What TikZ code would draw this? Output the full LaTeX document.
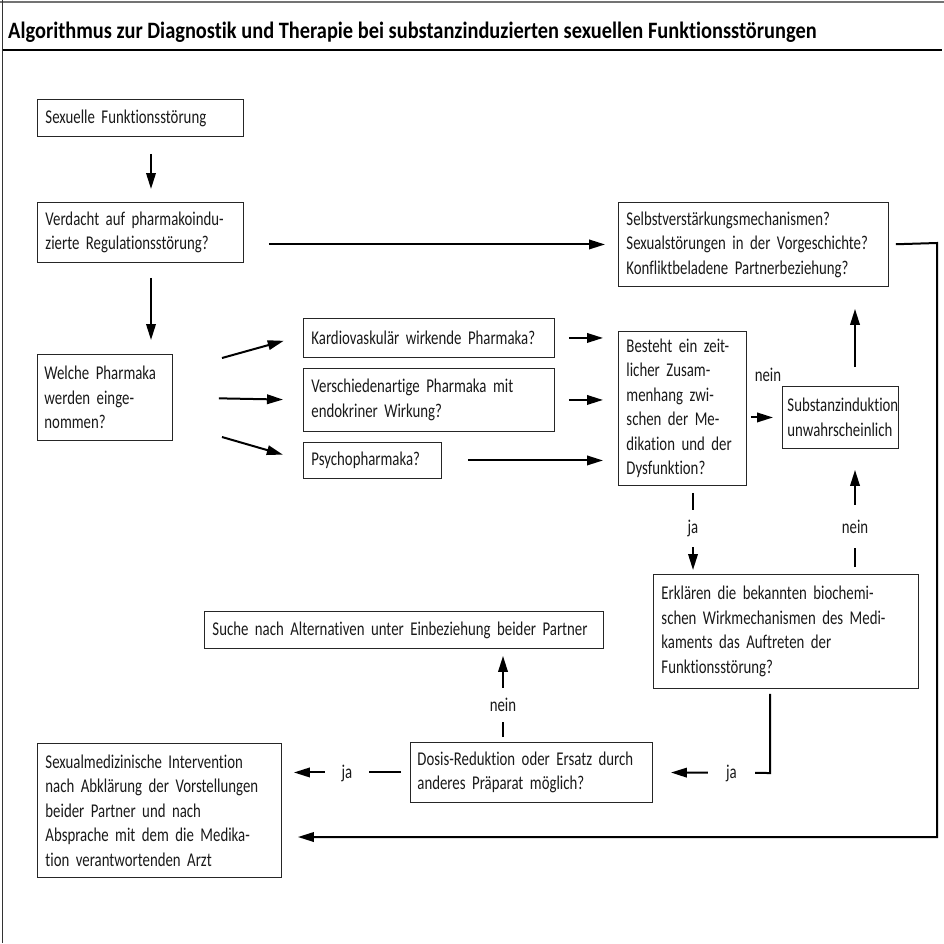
\documentclass[tikz,border=0pt]{standalone}
\usepackage{fontspec}
\setmainfont{Carlito}[FakeStretch=0.76, RawFeature={-liga}]
\newfontfamily\titlefont{Carlito}[FakeStretch=0.868, RawFeature={-liga}]
\usetikzlibrary{arrows.meta,calc}
\newcommand\jl[1]{\makebox[\hsize][s]{#1}}
\newcommand\nl[1]{\mbox{#1}}
\newcommand\bodyfont{\fontsize{19.5}{24.5}\selectfont\spaceskip=4.2pt plus 3pt minus 1pt\relax}
\begin{document}
\begin{tikzpicture}[x=1pt,y=-1pt,
  box/.style={draw=black!85, line width=0.9pt, anchor=north west, inner xsep=8pt, inner ysep=0pt, align=left, font=\bodyfont, text=black!90},
  arr/.style={line width=2pt, -{Triangle[length=16pt,width=9.5pt]}},
  lbl/.style={fill=white, font=\bodyfont, text=black!90, inner sep=0pt},
  frame/.style={line width=1pt, black!80}]
\useasboundingbox (0,0) rectangle (944,943);
% frame
\draw[line width=2.5pt, black!55] (0,2) -- (944,2);
\draw[frame] (2.5,0) -- (2.5,943);
\draw[line width=1.8pt] (2.5,50) -- (942,50);
\node[anchor=base west, inner sep=0pt, font=\titlefont\bfseries\fontsize{23.5}{28}\selectfont] (title) at (8,38) {Algorithmus zur Diagnostik und Therapie bei substanzinduzierten sexuellen Funktionsstörungen};

% boxes
\node[box, text width=190pt, minimum height=37pt] (A) at (37,99) {\nl{Sexuelle Funktionsstörung}};
\node[box, text width=190pt, minimum height=60pt] (B) at (37,202) {\jl{Verdacht auf pharmakoindu-}\\\nl{zierte Regulationsstörung?}};
\node[box, inner xsep=7pt, text width=121pt, minimum height=86pt] (C) at (37,354) {\nl{Welche Pharmaka}\\\nl{werden einge-}\\\nl{nommen?}};
\node[box, text width=235pt, minimum height=39pt] (D) at (303,318) {\nl{Kardiovaskulär wirkende Pharmaka?}};
\node[box, text width=235pt, minimum height=63pt] (E) at (303,368) {\nl{Verschiedenartige Pharmaka mit}\\\nl{endokriner Wirkung?}};
\node[box, text width=122pt, minimum height=36pt] (F) at (303,442) {\nl{Psychopharmaka?}};
\node[box, text width=254pt, minimum height=84pt] (G) at (618,202) {\nl{Selbstverstärkungsmechanismen?}\\\nl{Sexualstörungen in der Vorgeschichte?}\\\nl{Konfliktbeladene Partnerbeziehung?}};
\node[box, text width=112pt, minimum height=154pt] (H) at (618,331) {\jl{Besteht ein zeit-}\\\nl{licher Zusam-}\\\jl{menhang zwi-}\\\jl{schen der Me-}\\\jl{dikation und der}\\\nl{Dysfunktion?}};
\node[box, inner xsep=5pt, text width=106pt, minimum height=62pt] (I) at (782,386) {\nl{Substanzinduktion}\\\nl{unwahrscheinlich}};
\node[box, text width=249pt, minimum height=114pt] (J) at (653,574) {\jl{Erklären die bekannten biochemi-}\\\jl{schen Wirkmechanismen des Medi-}\\\nl{kaments das Auftreten der}\\\nl{Funktionsstörung?}};
\node[box, text width=383pt, minimum height=37pt] (K) at (204,611) {\nl{Suche nach Alternativen unter Einbeziehung beider Partner}};
\node[box, inner xsep=7pt, text width=228pt, minimum height=60pt] (L) at (410,742) {\nl{Dosis-Reduktion oder Ersatz durch}\\\nl{anderes Präparat möglich?}};
\node[box, text width=228pt, minimum height=134pt] (M) at (37,743) {\nl{Sexualmedizinische Intervention}\\\nl{nach Abklärung der Vorstellungen}\\\nl{beider Partner und nach}\\\nl{Absprache mit dem die Medika-}\\\nl{tion verantwortenden Arzt}};

% helper coordinates
\coordinate (axAB) at (151,0);
\coordinate (axHJ) at (693,0);
\coordinate (axI) at (855,0);
\coordinate (axLK) at (503,0);
\coordinate (jc) at (770,773);
\coordinate (c1) at (937,243);
\coordinate (c2) at (937,837);
\coordinate (s1) at (222,358);
\coordinate (s3) at (222,437);

% connectors
\draw[arr, shorten <=17pt, shorten >=13pt] (A.south -| axAB) -- (B.north -| axAB);
\draw[arr, shorten <=15pt, shorten >=14pt] (B.south -| axAB) -- (C.north -| axAB);
\draw[arr, shorten <=25pt, shorten >=13pt] (G.west -| B.east) -- (G.west);
\draw[arr, shorten >=20pt] (s1) -- ([yshift=2.5pt]D.west);
\draw[arr, shorten <=46pt, shorten >=20pt] (C.east) -- (E.west);
\draw[arr, shorten >=21pt] (s3) -- (F.west);
\draw[arr, shorten <=14pt, shorten >=15pt] (D.east) -- (D.east -| H.west);
\draw[arr, shorten <=14pt, shorten >=15pt] (E.east) -- (E.east -| H.west);
\draw[arr, shorten <=26pt, shorten >=15pt] (F.east) -- (F.east -| H.west);
\draw[arr, shorten <=4pt, shorten >=9pt] (I.west -| H.east) -- (I.west);
\draw[arr, shorten <=19pt, shorten >=22pt] (I.north -| axI) -- (G.south -| axI);
\draw[arr, shorten <=7pt, shorten >=21pt] (J.north -| axI) -- (I.south -| axI);
\draw[arr, shorten <=7pt, shorten >=4pt] (H.south -| axHJ) -- (J.north -| axHJ);
\draw[arr, shorten <=5pt, shorten >=18pt] (J.south -| jc) -- (jc) -- (L.east);
\draw[arr, shorten <=5pt, shorten >=7pt] (L.north -| axLK) -- (K.south -| axLK);
\draw[arr, shorten <=9pt, shorten >=12pt] (L.west) -- (L.west -| M.east);
\draw[arr, shorten <=7pt, shorten >=16pt] (G.east) -- (c1) -- (c2) -- (c2 -| M.east);

% labels
\node[lbl] (n1) at (768,375) {nein};
\node[lbl, minimum height=37pt, minimum width=20pt] (j1) at (693,528.5) {ja};
\node[lbl, minimum height=43pt, minimum width=36pt] (n2) at (855,526.5) {nein};
\node[lbl, minimum height=34pt, minimum width=36pt] (n3) at (503,705) {nein};
\node[lbl, minimum height=20pt, minimum width=47pt] (j2) at (731.5,773) {ja};
\node[lbl, minimum height=20pt, minimum width=44pt] (j3) at (347,773) {ja};
\end{tikzpicture}
\end{document}
